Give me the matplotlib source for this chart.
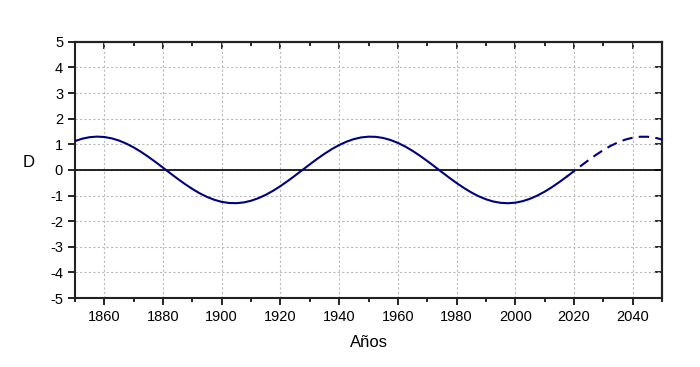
import matplotlib
matplotlib.use("Agg")
import matplotlib.pyplot as plt
from matplotlib.ticker import MultipleLocator, NullFormatter

plt.rcParams['font.family'] = ['Liberation Sans', 'DejaVu Sans']
plt.rcParams['axes.unicode_minus'] = False

years = [1850, 1852.5, 1855, 1857.5, 1860, 1862.5, 1865, 1867.5, 1870, 1872.5,
         1875, 1877.5, 1880, 1882.5, 1885, 1887.5, 1890, 1892.5, 1895, 1897.5,
         1900, 1902.5, 1905, 1907.5, 1910, 1912.5, 1915, 1917.5, 1920, 1922.5,
         1925, 1927.5, 1930, 1932.5, 1935, 1937.5, 1940, 1942.5, 1945, 1947.5,
         1950, 1952.5, 1955, 1957.5, 1960, 1962.5, 1965, 1967.5, 1970, 1972.5,
         1975, 1977.5, 1980, 1982.5, 1985, 1987.5, 1990, 1992.5, 1995, 1997.5,
         2000, 2002.5, 2005, 2007.5, 2010, 2012.5, 2015, 2017.5, 2020, 2022.5,
         2025, 2027.5, 2030, 2032.5, 2035, 2037.5, 2040, 2042.5, 2045, 2047.5, 2050]
D = [1.126, 1.219, 1.278, 1.300, 1.285, 1.234, 1.147, 1.028, 0.880, 0.706,
     0.513, 0.305, 0.088, -0.132, -0.347, -0.553, -0.743, -0.912, -1.054, -1.167,
     -1.247, -1.291, -1.298, -1.269, -1.203, -1.103, -0.972, -0.813, -0.631, -0.431,
     -0.219, 0.000, 0.219, 0.431, 0.631, 0.813, 0.972, 1.103, 1.203, 1.269,
     1.298, 1.291, 1.247, 1.167, 1.054, 0.912, 0.743, 0.553, 0.347, 0.132,
     -0.088, -0.305, -0.513, -0.706, -0.880, -1.028, -1.147, -1.234, -1.285, -1.300,
     -1.278, -1.219, -1.126, -1.000, -0.847, -0.669, -0.472, -0.262, -0.044, 0.175,
     0.389, 0.592, 0.778, 0.942, 1.079, 1.186, 1.259, 1.295, 1.295, 1.259, 1.186]
split_year = 2017.5

i = years.index(split_year)
obs_x, obs_y = years[:i + 1], D[:i + 1]
proj_x, proj_y = years[i:], D[i:]

fig = plt.figure(figsize=(7, 3.67), dpi=100)
ax = fig.add_axes([0.107, 0.188, 0.839, 0.698])

ax.grid(True, which='major', color='#bbbbbb', linestyle=(0, (2, 2)), linewidth=0.8)
ax.axhline(0, color='black', linewidth=1.2, zorder=2)
ax.plot(obs_x, obs_y, color='#000080', linewidth=1.5, zorder=3)
ax.plot(proj_x, proj_y, color='#000080', linewidth=1.5, linestyle=(0, (5, 3)), zorder=3)

ax.set_xlim(1850, 2050)
ax.set_ylim(-5, 5)
ax.xaxis.set_major_locator(MultipleLocator(20))
ax.xaxis.set_minor_locator(MultipleLocator(10))
ax.yaxis.set_major_locator(MultipleLocator(1))

ax.tick_params(axis='both', which='both', direction='out', labelsize=10.5, colors='black')
ax.tick_params(which='major', length=5, width=1.2)
ax.tick_params(which='minor', length=3, width=1.2)

top = ax.secondary_xaxis('top')
top.xaxis.set_major_locator(MultipleLocator(20))
top.xaxis.set_minor_locator(MultipleLocator(10))
top.xaxis.set_major_formatter(NullFormatter())
top.tick_params(which='both', direction='in', width=1.2)
top.tick_params(which='major', length=5)
top.tick_params(which='minor', length=3)
top.spines['top'].set_linewidth(1.5)

right = ax.secondary_yaxis('right')
right.yaxis.set_major_locator(MultipleLocator(1))
right.yaxis.set_major_formatter(NullFormatter())
right.tick_params(which='both', direction='in', width=1.2, length=5)
right.spines['right'].set_linewidth(1.5)

for s in ax.spines.values():
    s.set_linewidth(1.5)
    s.set_color('#222222')

ax.set_xlabel('Años', fontsize=12, labelpad=8)
ax.set_ylabel('D', fontsize=12, rotation=0, va='center', ha='center')
ax.yaxis.set_label_coords(-0.078, 0.53)

fig.savefig('out.png', dpi=100)
